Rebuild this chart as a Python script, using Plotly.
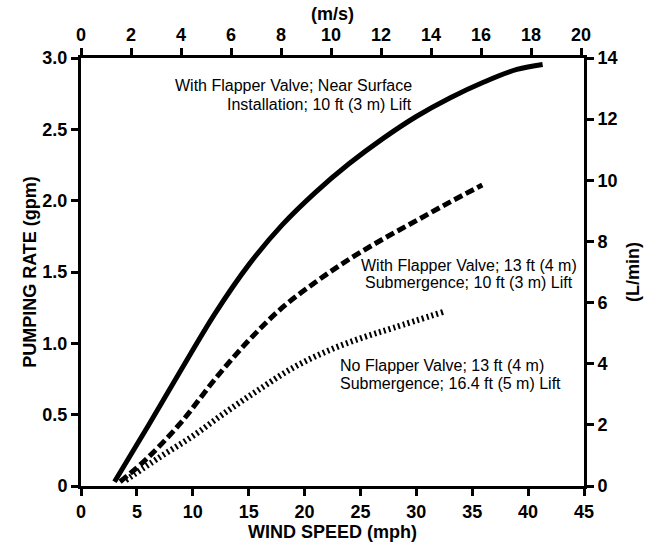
import plotly.graph_objects as go

# Data (wind speed mph, pumping rate gpm)
solid_x = [3.0, 6.0, 9.0, 12.0, 15.0, 18.0, 21.0, 24.0, 27.0, 30.0, 33.0, 36.0, 39.0, 41.3]
solid_y = [0.03, 0.42, 0.82, 1.21, 1.55, 1.83, 2.06, 2.26, 2.435, 2.59, 2.72, 2.83, 2.92, 2.955]

dash_x = [3.5, 6.0, 9.0, 12.0, 15.0, 18.0, 21.0, 24.0, 27.0, 30.0, 33.0, 35.9]
dash_y = [0.03, 0.20, 0.45, 0.75, 1.02, 1.25, 1.43, 1.59, 1.73, 1.86, 1.99, 2.11]

dot_x = [4.0, 7.0, 10.0, 13.0, 16.0, 19.0, 22.0, 25.0, 28.0, 32.4]
dot_y = [0.04, 0.20, 0.35, 0.52, 0.68, 0.83, 0.945, 1.035, 1.11, 1.22]

x_ticks = [0, 5, 10, 15, 20, 25, 30, 35, 40, 45]
y_ticks = [0, 0.5, 1.0, 1.5, 2.0, 2.5, 3.0]
y_tick_labels = ["0", "0.5", "1.0", "1.5", "2.0", "2.5", "3.0"]
top_ticks = [0, 2, 4, 6, 8, 10, 12, 14, 16, 18, 20]
right_ticks = [0, 2, 4, 6, 8, 10, 12, 14]

MPH_TO_MS = 0.44704

FONT = "Liberation Sans, Arial, Helvetica, sans-serif"
tickfont = dict(family=FONT, size=18, color="black", weight="bold")
titlefont = dict(family=FONT, size=18, color="black", weight="bold")

fig = go.Figure()
fig.add_trace(go.Scatter(x=solid_x, y=solid_y, mode="lines", line=dict(color="black", width=5, shape="spline", smoothing=1.0), showlegend=False))
fig.add_trace(go.Scatter(x=dash_x, y=dash_y, mode="lines", line=dict(color="black", width=5, dash="9px,4px", shape="spline", smoothing=1.0), showlegend=False))
fig.add_trace(go.Scatter(x=dot_x, y=dot_y, mode="lines", line=dict(color="black", width=6, dash="2px,3px", shape="spline", smoothing=1.0), showlegend=False))
# invisible traces to activate secondary axes
fig.add_trace(go.Scatter(x=[0], y=[0], xaxis="x2", yaxis="y", mode="markers", marker=dict(opacity=0), showlegend=False, hoverinfo="skip"))
fig.add_trace(go.Scatter(x=[0], y=[0], xaxis="x", yaxis="y2", mode="markers", marker=dict(opacity=0), showlegend=False, hoverinfo="skip"))

axis_common = dict(showgrid=False, zeroline=False, showline=True, linecolor="black", linewidth=3,
                   ticks="outside", ticklen=7, tickwidth=3, tickcolor="black", tickfont=tickfont)

fig.update_layout(
    width=655, height=546,
    margin=dict(l=81, r=71, t=55, b=53),
    plot_bgcolor="white", paper_bgcolor="white",
    xaxis=dict(range=[0, 45], tickvals=x_ticks, title=dict(text="WIND SPEED (mph)", font=titlefont, standoff=0), **axis_common),
    xaxis2=dict(range=[0, 45 * MPH_TO_MS], tickvals=top_ticks, overlaying="x", side="top",
                title=dict(text="(m/s)", font=titlefont, standoff=0), **axis_common),
    yaxis=dict(range=[0, 3], tickvals=y_ticks, ticktext=y_tick_labels, title=dict(text="PUMPING RATE (gpm)", font=titlefont, standoff=2), **axis_common),
    yaxis2=dict(range=[0, 14], tickvals=right_ticks, overlaying="y", side="right",
                title=dict(text="(L/min)", font=titlefont, standoff=10), **axis_common),
)

afont = dict(family=FONT, size=16, color="black")
annotations = [
    dict(text="With Flapper Valve; Near Surface", x=29.8, y=2.808, xanchor="right"),
    dict(text="Installation; 10 ft (3 m) Lift", x=29.8, y=2.671, xanchor="right"),
    dict(text="With Flapper Valve; 13 ft (4 m)", x=34.7, y=1.548, xanchor="center"),
    dict(text="Submergence; 10 ft (3 m) Lift", x=34.7, y=1.425, xanchor="center"),
    dict(text="No Flapper Valve; 13 ft (4 m)", x=23.0, y=0.842, xanchor="left"),
    dict(text="Submergence; 16.4 ft (5 m) Lift", x=23.0, y=0.719, xanchor="left"),
]
for a in annotations:
    fig.add_annotation(xref="x", yref="y", showarrow=False, font=afont, yanchor="middle", **a)

fig.write_html("out.html")
